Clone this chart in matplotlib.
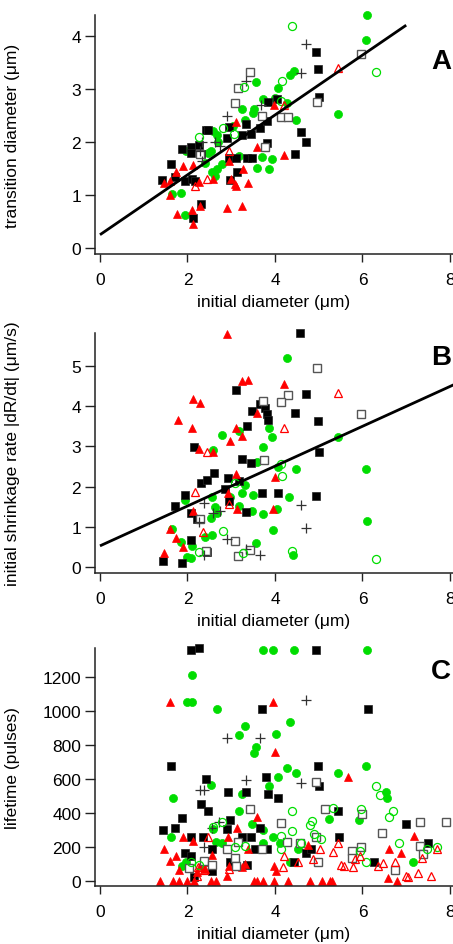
import numpy as np
import matplotlib
matplotlib.use('Agg')
import matplotlib.pyplot as plt

plt.rcParams['font.family'] = ['Liberation Sans', 'DejaVu Sans']

# ---------------- data ----------------
# panel A : transition diameter vs initial diameter
a_black_sq = [(1.42, 1.29), (1.62, 1.58), (1.71, 1.34), (1.88, 1.86), (1.95, 1.26), (2.07, 1.90),
              (2.07, 1.79), (2.10, 1.30), (2.17, 1.26), (2.13, 0.56), (2.32, 0.82), (2.26, 1.95),
              (2.32, 1.77), (2.42, 2.23), (2.47, 2.22), (2.90, 2.08), (2.96, 2.28), (2.97, 1.28),
              (2.94, 1.69), (3.12, 1.69), (3.14, 1.43), (3.25, 2.13), (3.33, 2.33), (3.36, 1.69),
              (3.47, 1.69), (3.45, 2.15), (3.65, 2.27), (3.81, 2.39), (3.82, 1.98), (3.84, 2.75),
              (4.04, 2.81), (4.45, 1.77), (4.59, 2.18), (4.70, 2.00), (4.94, 3.70), (4.98, 3.37),
              (5.00, 2.84)]
a_open_sq = [(3.09, 2.73), (3.15, 3.01), (3.44, 3.31), (3.70, 2.48), (3.77, 1.91), (4.14, 2.47),
             (4.30, 2.46), (4.96, 2.76), (5.97, 3.65), (2.29, 1.77)]
a_plus = [(4.70, 3.85), (4.59, 3.30), (3.34, 3.15), (3.68, 2.69), (2.90, 2.48), (2.34, 1.99),
          (2.62, 1.99), (2.74, 1.93), (2.29, 1.83), (2.34, 1.64)]
a_green = [(6.10, 4.39), (6.08, 3.92), (5.43, 2.52), (4.43, 3.33), (4.34, 3.26), (4.08, 3.01),
           (3.57, 3.13), (3.25, 2.61), (3.50, 2.54), (3.52, 2.62), (3.72, 2.81), (3.99, 2.82),
           (4.27, 2.74), (4.47, 2.42), (3.31, 2.42), (3.18, 1.74), (3.71, 1.71), (3.60, 1.51),
           (3.87, 1.49), (3.94, 1.67), (2.48, 1.79), (2.39, 1.60), (2.54, 1.83), (2.59, 2.20),
           (2.68, 2.12), (2.57, 1.44), (2.67, 1.49), (2.64, 1.36), (2.78, 1.59), (1.97, 1.83),
           (1.64, 1.01), (1.85, 1.04), (1.95, 0.63), (2.70, 1.99), (3.05, 2.30)]
a_green_open = [(2.82, 2.27), (2.27, 2.10), (3.07, 2.15), (3.30, 3.03), (4.15, 3.14), (4.14, 2.77),
                (4.40, 4.19), (6.31, 3.31)]
a_red = [(1.46, 1.22), (1.59, 0.99), (1.60, 1.27), (1.73, 1.44), (1.77, 0.64), (1.90, 1.55),
         (2.10, 0.72), (2.13, 1.57), (2.13, 0.46), (2.26, 1.25), (2.29, 0.79), (2.59, 1.30),
         (2.90, 0.75), (2.96, 1.64), (2.99, 1.30), (3.09, 1.21), (3.12, 2.37), (3.25, 0.79),
         (3.26, 1.48), (3.38, 1.23), (3.58, 1.90), (3.12, 1.16), (3.98, 2.69), (4.21, 1.76)]
a_red_open = [(5.43, 3.39), (4.21, 2.69), (2.94, 1.83), (2.44, 1.30), (2.18, 1.16)]
a_fit = (0.25, 0.564, 7.0)   # intercept, slope, end x

# panel B : initial shrinkage rate vs initial diameter
b_black_sq = [(1.44, 0.15), (1.88, 0.09), (1.72, 1.51), (1.95, 1.80), (2.07, 0.66), (2.09, 1.35),
              (2.15, 2.98), (2.21, 1.19), (2.32, 2.10), (2.44, 2.17), (2.44, 0.36), (2.60, 2.34),
              (2.86, 1.94), (2.93, 2.21), (2.96, 1.65), (3.12, 4.41), (3.25, 2.68), (3.34, 1.36),
              (3.37, 3.52), (3.45, 2.59), (3.47, 3.89), (3.66, 4.06), (3.71, 1.85), (3.77, 3.95),
              (3.81, 3.81), (3.85, 3.67), (4.07, 1.85), (4.45, 3.84), (4.57, 5.82), (4.70, 4.32),
              (4.94, 1.77), (4.98, 3.63), (5.00, 2.85), (3.17, 2.13)]
b_open_sq = [(4.96, 4.95), (4.30, 4.28), (4.14, 4.12), (3.72, 4.13), (3.76, 2.66), (5.97, 3.81),
             (3.09, 0.63), (3.15, 0.27), (3.44, 0.42), (2.29, 1.19), (2.42, 0.38)]
b_plus = [(4.59, 1.54), (4.71, 0.96), (3.66, 0.29), (3.34, 0.44), (2.90, 0.68), (2.74, 1.40),
          (2.59, 1.35), (2.38, 1.58), (2.26, 1.11), (2.38, 0.29)]
b_green = [(4.27, 5.20), (3.87, 3.45), (3.94, 3.23), (3.72, 2.98), (3.60, 2.60), (4.08, 2.49),
           (4.47, 2.43), (5.43, 3.23), (6.08, 2.43), (6.10, 1.13), (4.42, 0.30), (2.79, 3.28),
           (2.59, 2.91), (3.18, 3.39), (3.31, 2.04), (3.25, 1.83), (3.18, 1.52), (3.50, 1.80),
           (3.48, 1.40), (3.72, 1.31), (3.95, 0.91), (4.04, 1.45), (4.33, 1.75), (3.57, 0.60),
           (2.57, 1.73), (2.64, 1.50), (2.67, 1.34), (2.53, 1.21), (2.55, 0.80), (2.40, 0.75),
           (1.94, 1.67), (1.64, 0.94), (1.85, 0.61), (2.10, 0.52), (2.00, 0.23), (2.08, 0.21),
           (2.97, 1.75)]
b_green_open = [(2.82, 0.88), (3.09, 2.08), (4.15, 2.27), (4.14, 2.56), (4.40, 0.39), (6.31, 0.19),
                (2.27, 0.36), (3.28, 0.35)]
b_red = [(2.90, 5.80), (3.25, 4.64), (3.39, 4.66), (4.20, 4.56), (2.13, 4.18), (2.29, 4.08),
         (1.78, 3.65), (2.10, 3.46), (3.11, 3.47), (3.25, 3.26), (2.97, 3.13), (2.26, 2.93),
         (2.59, 2.85), (3.58, 3.84), (3.11, 2.31), (4.00, 2.24), (2.93, 1.85), (3.14, 1.44),
         (3.96, 1.44), (2.13, 1.40), (1.59, 0.93), (1.73, 0.71), (1.89, 0.49), (1.47, 0.33)]
b_red_open = [(5.45, 4.33), (4.21, 3.47), (2.44, 2.85), (2.18, 1.87), (2.96, 1.56), (2.35, 0.87)]
b_fit = (0.52, 0.497, 8.2)

# panel C : lifetime vs initial diameter
c_black_sq = [(2.08, 1359), (2.27, 1370), (4.94, 1359), (3.71, 1010), (6.13, 1010), (1.62, 673),
              (4.98, 673), (2.42, 599), (3.79, 609), (2.93, 525), (3.33, 521), (3.84, 511),
              (4.06, 485), (2.32, 450), (2.46, 409), (1.88, 370), (2.97, 360), (1.44, 300),
              (1.71, 309), (6.99, 337), (2.07, 256), (2.35, 256), (2.90, 305), (3.66, 309),
              (3.25, 256), (3.45, 256), (5.46, 256), (5.43, 409), (5.00, 560), (2.57, 188),
              (1.95, 164), (2.07, 149), (2.97, 110), (3.37, 96), (2.57, 57), (2.15, 22),
              (3.54, 188), (3.82, 188), (4.70, 162), (4.82, 188), (4.44, 110), (6.26, 110),
              (7.50, 225)]
c_open_sq = [(3.44, 423), (4.14, 341), (5.14, 423), (5.99, 395), (4.94, 583), (7.31, 348),
             (7.92, 348), (6.44, 282), (4.28, 231), (4.94, 256), (5.96, 202), (5.75, 174),
             (4.57, 223), (7.31, 208), (7.39, 159), (6.75, 65), (5.75, 133), (4.98, 110),
             (2.90, 188), (3.15, 231), (3.71, 188), (3.08, 133), (3.10, 90), (2.38, 115),
             (2.03, 74), (2.57, 94)]
c_plus = [(4.71, 1063), (2.90, 840), (3.66, 840), (3.34, 593), (4.59, 574), (2.29, 536),
          (2.38, 536), (2.73, 348), (2.57, 309), (2.38, 202)]
c_green = [(3.73, 1359), (3.95, 1359), (4.43, 1359), (6.10, 1359), (2.11, 1210), (1.98, 1049),
           (2.10, 1049), (2.67, 1010), (4.34, 936), (3.31, 912), (3.17, 857), (4.02, 861),
           (3.56, 785), (3.52, 750), (4.27, 664), (4.47, 634), (5.43, 634), (6.08, 673),
           (4.08, 609), (3.86, 560), (2.54, 564), (3.25, 511), (1.67, 486), (6.53, 525),
           (6.57, 486), (3.18, 409), (3.48, 337), (5.24, 364), (5.93, 358), (1.63, 260),
           (2.59, 305), (2.65, 227), (2.78, 223), (3.72, 223), (3.95, 260), (4.11, 223),
           (4.52, 188), (4.34, 110), (7.16, 110), (1.96, 114), (1.87, 90), (3.73, 301)]
c_green_open = [(6.31, 560), (6.39, 505), (6.69, 411), (6.61, 374), (6.84, 223), (5.97, 423),
                (5.33, 427), (4.40, 409), (4.84, 354), (4.80, 331), (4.39, 296), (4.14, 262),
                (4.14, 188), (4.59, 223), (4.90, 276), (5.05, 247), (6.07, 110), (7.70, 198),
                (7.47, 188), (2.59, 315), (2.80, 344), (3.09, 198), (3.31, 207), (2.26, 94),
                (2.07, 110), (5.94, 178)]
c_red = [(1.61, 1049), (3.96, 1049), (4.01, 761), (5.68, 613), (3.58, 374), (3.14, 311),
         (1.89, 260), (2.13, 237), (2.93, 260), (3.39, 188), (1.47, 188), (1.59, 115),
         (1.73, 149), (1.81, 65), (2.29, 90), (2.44, 110), (2.57, 153), (2.21, 51),
         (2.39, 70), (2.95, 90), (2.90, 31), (3.25, 80), (3.31, 100), (3.98, 90), (4.02, 57),
         (4.75, 211), (6.61, 188), (6.88, 162), (7.18, 262), (6.59, 20),
         (1.38, 0), (1.68, 0), (1.80, 0), (1.99, 0), (2.16, 0), (2.53, 0), (2.65, 0),
         (3.53, 0), (3.60, 0), (3.73, 0), (3.98, 0), (4.30, 0), (4.80, 0), (5.07, 0),
         (5.26, 0), (5.31, 0), (6.78, 0)]
c_red_open = [(5.45, 223), (5.33, 168), (5.03, 188), (4.88, 129), (4.52, 114), (4.21, 145),
              (4.18, 80), (5.94, 149), (5.78, 80), (5.57, 90), (5.84, 129), (6.36, 90),
              (6.46, 106), (6.74, 110), (6.99, 31), (7.04, 22), (7.28, 47), (7.37, 133),
              (7.56, 31), (7.71, 188), (2.96, 70), (2.46, 256), (2.38, 67), (2.25, 80),
              (2.21, 31), (5.52, 94)]

ylabels = ['transition diameter (\u03bcm)',
           'initial shrinkage rate |dR/dt| (\u03bcm/s)',
           'lifetime (pulses)']
xlabel = 'initial diameter (\u03bcm)'
letters = ['A', 'B', 'C']
xticks = [0, 2, 4, 6, 8]
yticks_list = [[0, 1, 2, 3, 4], [0, 1, 2, 3, 4, 5], [0, 200, 400, 600, 800, 1000, 1200]]
ylims = [(-0.113, 4.39), (-0.157, 5.83), (-29, 1369)]

GREEN = '#00dd00'
RED = '#ff0000'
GREY = '#555555'

W, H = 453, 945
fig = plt.figure(figsize=(W / 100, H / 100), dpi=100)

# axes boxes in pixels: left, top spine end, bottom spine
boxes = [(95, 16, 255), (95, 334, 574), (95, 649, 887)]
letter_pos = [(451, 62), (451, 358), (451, 672)]

panels = [
    (a_black_sq, a_open_sq, a_plus, a_green, a_green_open, a_red, a_red_open, a_fit),
    (b_black_sq, b_open_sq, b_plus, b_green, b_green_open, b_red, b_red_open, b_fit),
    (c_black_sq, c_open_sq, c_plus, c_green, c_green_open, c_red, c_red_open, None),
]


def pts(d):
    d = np.array(d, dtype=float)
    return d[:, 0], d[:, 1]


ms = 5.8
for i, (blk, osq, pls, grn, gro, red, reo, fit) in enumerate(panels):
    l, t, b = boxes[i]
    ax = fig.add_axes([l / W, 1 - b / H, (W - l) / W, (b - t) / H])
    ax.set_xlim(-0.114, 8.07)
    ax.set_ylim(*ylims[i])

    x, y = pts(grn)
    ax.plot(x, y, 'o', ms=ms, mfc=GREEN, mec=GREEN, mew=0.5, ls='none', clip_on=False)
    x, y = pts(blk)
    ax.plot(x, y, 's', ms=ms, mfc='black', mec='#222222', mew=0.5, ls='none', clip_on=False)
    x, y = pts(red)
    ax.plot(x, y, '^', ms=ms + 0.6, mfc=RED, mec=RED, mew=0.5, ls='none', clip_on=False)
    x, y = pts(osq)
    ax.plot(x, y, 's', ms=ms, mfc='white', mec=GREY, mew=1.0, ls='none', clip_on=False)
    x, y = pts(pls)
    ax.plot(x, y, '+', ms=ms + 1.5, mec='#333333', mew=0.9, ls='none', clip_on=False)
    x, y = pts(gro)
    ax.plot(x, y, 'o', ms=ms, mfc='none', mec=GREEN, mew=0.9, ls='none', clip_on=False)
    x, y = pts(reo)
    ax.plot(x, y, '^', ms=ms + 0.6, mfc='none', mec=RED, mew=0.9, ls='none', clip_on=False)

    if fit is not None:
        b0, m, xe = fit
        xf = np.array([0, xe])
        ax.plot(xf, b0 + m * xf, color='black', lw=2.0, solid_capstyle='butt')

    for s in ['top', 'right']:
        ax.spines[s].set_visible(False)
    for s in ['left', 'bottom']:
        ax.spines[s].set_color('#222222')
        ax.spines[s].set_linewidth(1.1)
    ax.set_xticks(xticks)
    ax.set_yticks(yticks_list[i])
    ax.tick_params(direction='out', width=1.0, color='#222222', labelsize=12.5)
    ax.tick_params(axis='y', length=7, pad=3)
    ax.tick_params(axis='x', length=6, pad=7)
    ax.set_xlabel(xlabel, fontsize=12.5, labelpad=5)
    ax.set_ylabel(ylabels[i], fontsize=12.5)
    ax.yaxis.set_label_coords((20 - l) / (W - l), 0.5)
    lx, ly = letter_pos[i]
    fig.text(lx / W, 1 - ly / H, letters[i], fontsize=20,
             fontweight='bold', ha='right', va='center')

fig.savefig('out.png', dpi=100)
